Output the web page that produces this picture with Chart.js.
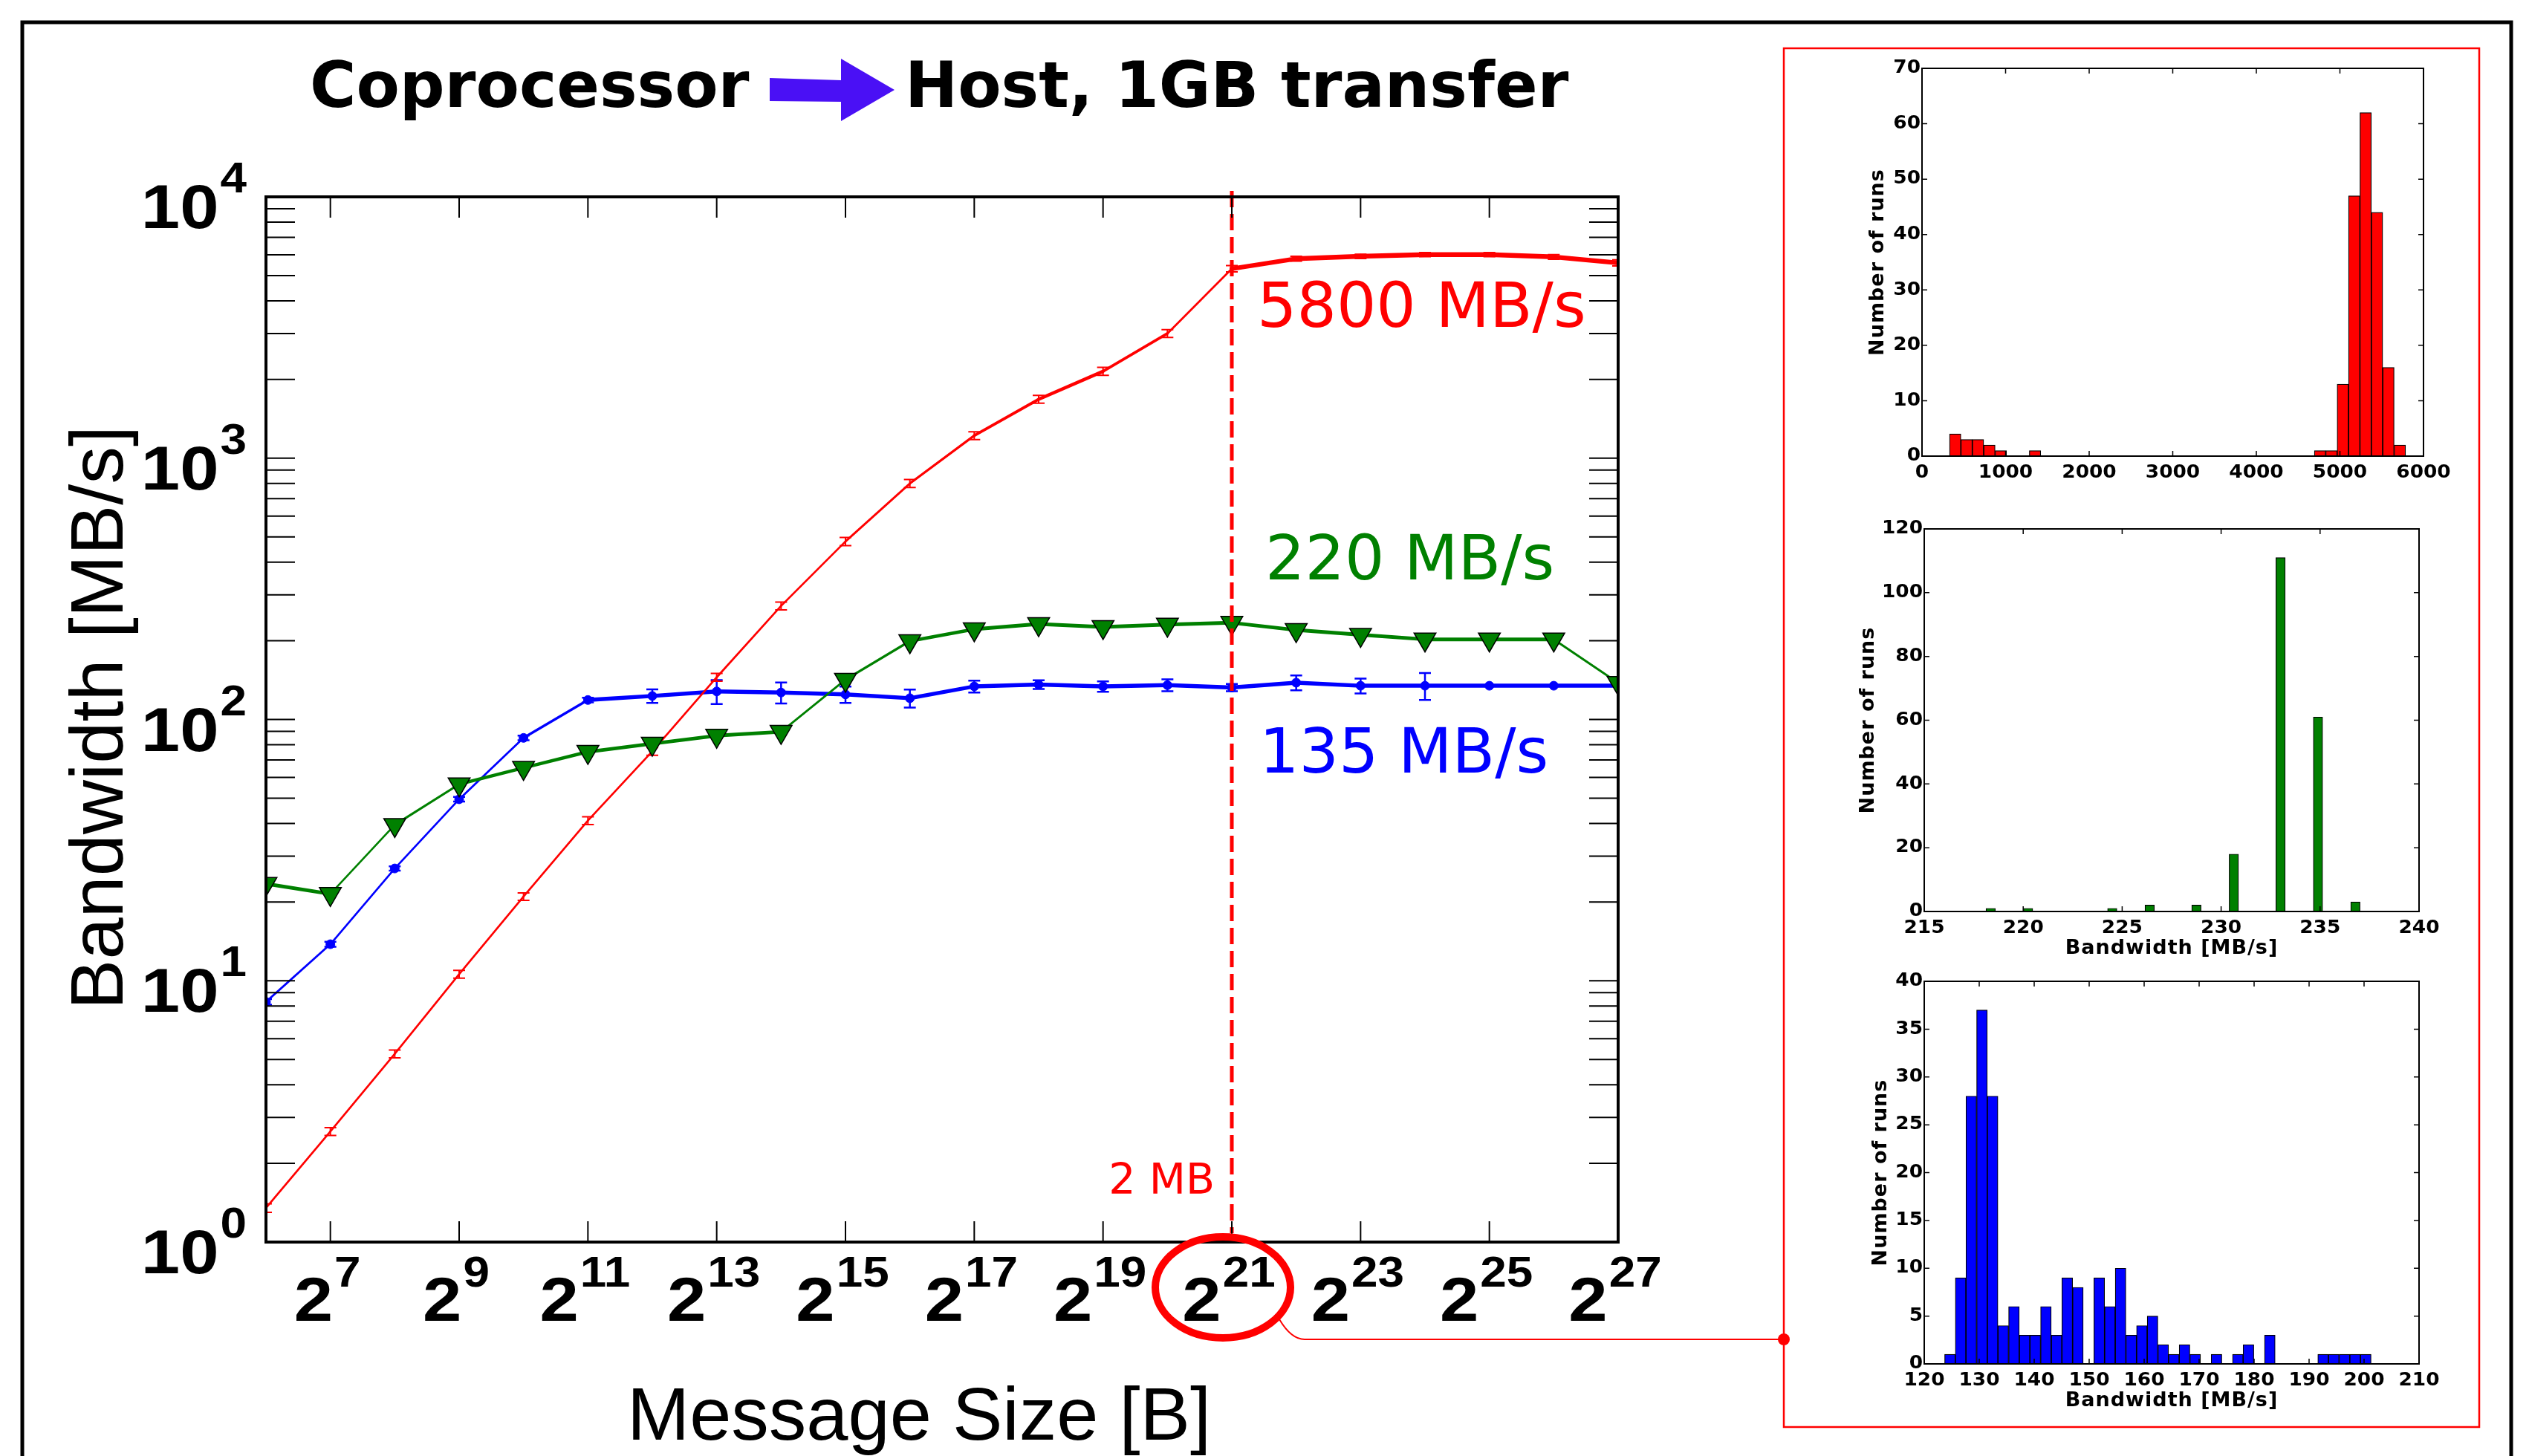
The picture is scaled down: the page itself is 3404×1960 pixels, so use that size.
<!DOCTYPE html>
<html>
<head>
<meta charset="utf-8">
<title>Coprocessor to Host, 1GB transfer</title>
<script src="https://cdn.jsdelivr.net/npm/chart.js@4.4.1/dist/chart.umd.min.js"></script>
<style>
  html, body { margin: 0; padding: 0; background: #fff; }
  body { width: 3404px; height: 1960px; position: relative; overflow: hidden; }
  canvas { position: absolute; left: 0; top: 0; }
</style>
</head>
<body>
<canvas id="mainChart" width="3404" height="1960"></canvas>
<canvas id="histRed" width="3404" height="1960"></canvas>
<canvas id="histGreen" width="3404" height="1960"></canvas>
<canvas id="histBlue" width="3404" height="1960"></canvas>
<script>
const W = 3404, H = 1960;

// message sizes in bytes, 2^6 .. 2^27
const messageSizes = [64, 128, 256, 512, 1024, 2048, 4096, 8192, 16384, 32768, 65536,
  131072, 262144, 524288, 1048576, 2097152, 4194304, 8388608, 16777216, 33554432,
  67108864, 134217728];
const xTickExps = [7, 9, 11, 13, 15, 17, 19, 21, 23, 25, 27];
const yDecades = [0, 1, 2, 3, 4];
const markerSize = 2097152; // 2 MB

// bandwidth in MB/s, with +/- error
const redBw = [1.35, 2.65, 5.25, 10.6, 21, 41, 75.5, 145, 272, 480, 800, 1220, 1680, 2150,
  3000, 5310, 5800, 5920, 6010, 6010, 5890, 5590];
const redErr = [0.05, 0.09, 0.18, 0.36, 0.7, 1.4, 2.6, 5, 9.5, 17, 28, 42, 58, 75, 105,
  150, 120, 110, 110, 110, 120, 150];
const greenBw = [23.5, 21.5, 39.5, 56.5, 65.3, 75.2, 80.8, 86.7, 89.7, 142, 199.5, 221.6,
  231.8, 226, 230.7, 234.5, 220, 210.8, 202.6, 202.6, 202.6, 138];
const greenErr = [0.5, 0.5, 0.8, 1.1, 1.3, 1.5, 1.6, 1.7, 1.8, 2.8, 4, 4.4, 4.6, 4.5, 4.6,
  4.7, 4.4, 4.2, 4, 4, 4, 2.8];
const blueBw = [8.3, 13.8, 26.9, 49.5, 85, 118.7, 123, 128, 126.8, 124.7, 120.6, 133.8,
  136, 133.8, 135.3, 132.5, 138.3, 134.6, 134.6, 134.6, 134.6, 134.6];
const blueErr = [0.2, 0.3, 0.5, 1, 1.7, 2.4, 7.3, 13.4, 11.6, 9, 9.5, 7, 5.3, 6.1, 7.1,
  4.3, 9, 8.8, 15.9, 0, 0, 0];

// histograms at 2 MB: 40 bins between first and last edge
const redBinRange = [329, 5785];
const redCounts = [4, 3, 3, 2, 1, 0, 0, 1, 0, 0, 0, 0, 0, 0, 0, 0, 0, 0, 0, 0,
  0, 0, 0, 0, 0, 0, 0, 0, 0, 0, 0, 0, 1, 1, 13, 47, 62, 44, 16, 2];
const redXTicks = [0, 1000, 2000, 3000, 4000, 5000, 6000];
const redYTicks = [0, 10, 20, 30, 40, 50, 60, 70];

const greenBinRange = [218.12, 237.02];
const greenCounts = [1, 0, 0, 0, 1, 0, 0, 0, 0, 0, 0, 0, 0, 1, 0, 0, 0, 2, 0, 0,
  0, 0, 2, 0, 0, 0, 18, 0, 0, 0, 0, 111, 0, 0, 0, 61, 0, 0, 0, 3];
const greenXTicks = [215, 220, 225, 230, 235, 240];
const greenYTicks = [0, 20, 40, 60, 80, 100, 120];

const blueBinRange = [123.71, 201.28];
const blueCounts = [1, 9, 28, 37, 28, 4, 6, 3, 3, 6, 3, 9, 8, 0, 9, 6, 10, 3, 4, 5,
  2, 1, 2, 1, 0, 1, 0, 1, 2, 0, 3, 0, 0, 0, 0, 1, 1, 1, 1, 1];
const blueXTicks = [120, 130, 140, 150, 160, 170, 180, 190, 200, 210];
const blueYTicks = [0, 5, 10, 15, 20, 25, 30, 35, 40];

function pad(r) {
  return { left: r.l, top: r.t, right: W - r.r, bottom: H - r.b };
}

// steep segments come out thinner than flat ones in the original
function slopeWidth(flat, steep) {
  return ctx => {
    const dx = ctx.p1.x - ctx.p0.x, dy = ctx.p1.y - ctx.p0.y;
    const c = Math.abs(dx) / (Math.hypot(dx, dy) || 1);
    return steep + (flat - steep) * Math.pow(c, 8);
  };
}

function points(values) {
  return messageSizes.map((s, i) => ({ x: s, y: values[i] }));
}

// text squeezed/stretched horizontally around an anchor
function wideText(ctx, text, x, y, sx) {
  ctx.save();
  ctx.translate(x, y);
  ctx.scale(sx, 1);
  ctx.fillText(text, 0, 0);
  ctx.restore();
}

// base with superscript, e.g. 10^4, 2^21
function supLabel(ctx, base, sup, x, baseY, supY, baseFont, supFont, align) {
  const sx = 1.12;
  ctx.font = baseFont;
  const wb = ctx.measureText(base).width * sx;
  ctx.font = supFont;
  const ws = ctx.measureText(sup).width * sx;
  const total = wb + 2 + ws;
  const start = align === 'right' ? x - total : x - total / 2 - 4;
  ctx.textAlign = 'left';
  ctx.font = baseFont;
  wideText(ctx, base, start, baseY, sx);
  ctx.font = supFont;
  wideText(ctx, sup, start + wb + 2, supY, sx);
}

const mainDecor = {
  id: 'mainDecor',
  beforeDatasetDraw(chart, args) {
    const ds = chart.data.datasets[args.index];
    if (!ds.errors) return;
    const ctx = chart.ctx, a = chart.chartArea;
    const xs = chart.scales.x, ys = chart.scales.y;
    ctx.save();
    ctx.beginPath();
    ctx.rect(a.left, a.top, a.right - a.left, a.bottom - a.top);
    ctx.clip();
    ctx.strokeStyle = ds.borderColor;
    ctx.lineWidth = ds.errorWidth;
    ds.data.forEach((p, i) => {
      const e = ds.errors[i];
      if (!e) return;
      const x = xs.getPixelForValue(p.x);
      const y1 = ys.getPixelForValue(p.y - e);
      const y2 = ys.getPixelForValue(p.y + e);
      ctx.beginPath();
      ctx.moveTo(x, y1); ctx.lineTo(x, y2);
      ctx.moveTo(x - ds.capHalf, y1); ctx.lineTo(x + ds.capHalf, y1);
      ctx.moveTo(x - ds.capHalf, y2); ctx.lineTo(x + ds.capHalf, y2);
      ctx.stroke();
    });
    ctx.restore();
  },
  afterDatasetsDraw(chart) {
    const ctx = chart.ctx, a = chart.chartArea;
    const x = chart.scales.x.getPixelForValue(markerSize);
    ctx.save();
    ctx.strokeStyle = '#ff0000';
    ctx.lineWidth = 5;
    ctx.setLineDash([22, 9]);
    ctx.beginPath();
    ctx.moveTo(x, a.top - 8);
    ctx.lineTo(x, a.bottom - 12);
    ctx.stroke();
    ctx.restore();
  },
  afterDraw(chart) {
    const ctx = chart.ctx, a = chart.chartArea;
    const xs = chart.scales.x, ys = chart.scales.y;
    ctx.save();

    // outer frame of the slide
    ctx.strokeStyle = '#000';
    ctx.lineWidth = 5;
    ctx.strokeRect(30, 30, 3350, 2100);

    // title with arrow
    ctx.fillStyle = '#000';
    ctx.textBaseline = 'alphabetic';
    ctx.textAlign = 'left';
    ctx.font = 'bold 85px "DejaVu Sans"';
    ctx.fillText('Coprocessor', 417, 144);
    ctx.fillText('Host, 1GB transfer', 1218, 144);
    ctx.fillStyle = '#4a10f5';
    ctx.beginPath();
    ctx.moveTo(1036, 105); ctx.lineTo(1132, 108); ctx.lineTo(1132, 79);
    ctx.lineTo(1204, 121); ctx.lineTo(1132, 163); ctx.lineTo(1132, 137);
    ctx.lineTo(1036, 136); ctx.closePath();
    ctx.fill();

    // inward ticks
    ctx.strokeStyle = '#000';
    ctx.lineWidth = 2;
    ctx.beginPath();
    for (let d = 0; d < 4; d++) {
      for (let k = 1; k < 10; k++) {
        const y = ys.getPixelForValue(k * Math.pow(10, d));
        ctx.moveTo(a.left, y); ctx.lineTo(a.left + 39, y);
        ctx.moveTo(a.right, y); ctx.lineTo(a.right - 39, y);
      }
    }
    xTickExps.forEach(e => {
      const x = xs.getPixelForValue(Math.pow(2, e));
      ctx.moveTo(x, a.bottom); ctx.lineTo(x, a.bottom - 28);
      ctx.moveTo(x, a.top); ctx.lineTo(x, a.top + 28);
    });
    ctx.stroke();

    // plot frame
    ctx.lineWidth = 4;
    ctx.strokeRect(a.left, a.top, a.right - a.left, a.bottom - a.top);

    // tick labels
    ctx.fillStyle = '#000';
    const bFont = 'bold 84px "Liberation Sans"', sFont = 'bold 57px "Liberation Sans"';
    yDecades.forEach(d => {
      const y = ys.getPixelForValue(Math.pow(10, d));
      supLabel(ctx, '10', String(d), a.left - 26, y + 42, y - 6, bFont, sFont, 'right');
    });
    xTickExps.forEach(e => {
      const x = xs.getPixelForValue(Math.pow(2, e));
      supLabel(ctx, '2', String(e), x, a.bottom + 106, a.bottom + 60, bFont, sFont, 'center');
    });

    // axis titles
    ctx.font = '101px "Liberation Sans"';
    ctx.textAlign = 'center';
    ctx.fillText('Message Size [B]', 1237, 1938);
    ctx.save();
    ctx.translate(165, 966);
    ctx.rotate(-Math.PI / 2);
    ctx.fillText('Bandwidth [MB/s]', 0, 0);
    ctx.restore();

    // annotations
    const x21 = xs.getPixelForValue(markerSize);
    ctx.textAlign = 'left';
    ctx.font = '84px "DejaVu Sans"';
    ctx.fillStyle = '#ff0000';
    ctx.fillText('5800 MB/s', x21 + 34, 440);
    ctx.fillStyle = '#008000';
    ctx.fillText('220 MB/s', x21 + 45, 780);
    ctx.fillStyle = '#0000ff';
    ctx.fillText('135 MB/s', x21 + 37, 1040);
    ctx.fillStyle = '#ff0000';
    ctx.font = '57px "DejaVu Sans"';
    ctx.textAlign = 'right';
    ctx.fillText('2 MB', x21 - 23, 1607);

    // circle on 2^21 and link to the histograms
    ctx.strokeStyle = '#ff0000';
    ctx.lineWidth = 10;
    ctx.beginPath();
    ctx.ellipse(x21 - 12, 1733, 91, 68, 0, 0, Math.PI * 2);
    ctx.stroke();
    ctx.lineWidth = 2;
    ctx.beginPath();
    ctx.moveTo(1722, 1776);
    ctx.quadraticCurveTo(1738, 1803, 1756, 1803);
    ctx.lineTo(2401, 1803);
    ctx.stroke();
    ctx.lineWidth = 2.5;
    ctx.strokeRect(2401, 65, 936, 1856);
    ctx.fillStyle = '#ff0000';
    ctx.beginPath();
    ctx.arc(2401, 1803, 8, 0, Math.PI * 2);
    ctx.fill();

    ctx.restore();
  }
};

new Chart(document.getElementById('mainChart'), {
  type: 'line',
  data: {
    datasets: [
      {
        label: '220 MB/s',
        data: points(greenBw),
        errors: greenErr, errorWidth: 2, capHalf: 7,
        borderColor: '#008000',
        borderWidth: 3,
        segment: { borderWidth: slopeWidth(5, 2.5) },
        pointStyle: 'triangle',
        pointRotation: 180,
        pointRadius: 17,
        pointBackgroundColor: '#008000',
        pointBorderColor: '#000',
        pointBorderWidth: 1.5
      },
      {
        label: '5800 MB/s',
        data: points(redBw),
        errors: redErr, errorWidth: 2, capHalf: 8,
        borderColor: '#ff0000',
        borderWidth: 3,
        segment: { borderWidth: slopeWidth(6.5, 2.5) },
        pointRadius: 0
      },
      {
        label: '135 MB/s',
        data: points(blueBw),
        errors: blueErr, errorWidth: 2.5, capHalf: 8,
        borderColor: '#0000ff',
        borderWidth: 3,
        segment: { borderWidth: slopeWidth(5.5, 2.5) },
        pointStyle: 'circle',
        pointRadius: 6,
        pointBackgroundColor: '#0000ff',
        pointBorderColor: '#0000ff',
        pointBorderWidth: 1
      }
    ]
  },
  options: {
    responsive: false,
    animation: false,
    devicePixelRatio: 1,
    layout: { padding: pad({ l: 358, t: 265, r: 2178, b: 1672 }) },
    elements: { line: { tension: 0, borderCapStyle: 'round', borderJoinStyle: 'round' } },
    datasets: { line: { clip: 0, fill: false } },
    plugins: { legend: { display: false }, tooltip: { enabled: false } },
    scales: {
      x: { type: 'logarithmic', display: false, min: 64, max: 134217728 },
      y: { type: 'logarithmic', display: false, min: 1, max: 10000 }
    }
  },
  plugins: [mainDecor]
});

function histDecor(cfg) {
  return {
    id: 'histDecor',
    afterDraw(chart) {
      const ctx = chart.ctx, a = chart.chartArea;
      const xs = chart.scales.x, ys = chart.scales.y;
      ctx.save();
      ctx.strokeStyle = '#000';
      ctx.lineWidth = 1.5;
      ctx.beginPath();
      cfg.xTicks.forEach(v => {
        const x = xs.getPixelForValue(v);
        ctx.moveTo(x, a.bottom); ctx.lineTo(x, a.bottom - 7);
        ctx.moveTo(x, a.top); ctx.lineTo(x, a.top + 7);
      });
      cfg.yTicks.forEach(v => {
        const y = ys.getPixelForValue(v);
        ctx.moveTo(a.left, y); ctx.lineTo(a.left + 7, y);
        ctx.moveTo(a.right, y); ctx.lineTo(a.right - 7, y);
      });
      ctx.stroke();
      ctx.lineWidth = 2;
      ctx.strokeRect(a.left, a.top, a.right - a.left, a.bottom - a.top);

      ctx.fillStyle = '#000';
      ctx.font = 'bold 24px "DejaVu Sans"';
      ctx.textAlign = 'center';
      ctx.textBaseline = 'alphabetic';
      cfg.xTicks.forEach(v => {
        wideText(ctx, String(v), xs.getPixelForValue(v), a.bottom + 29, 1.1);
      });
      ctx.textAlign = 'right';
      ctx.textBaseline = 'middle';
      cfg.yTicks.forEach(v => {
        wideText(ctx, String(v), a.left - 2, ys.getPixelForValue(v), 1.1);
      });

      ctx.font = 'bold 27px "DejaVu Sans"';
      ctx.letterSpacing = '1px';
      ctx.textAlign = 'center';
      ctx.save();
      ctx.translate(a.left - cfg.yTitleGap, (a.top + a.bottom) / 2);
      ctx.rotate(-Math.PI / 2);
      ctx.fillText('Number of runs', 0, 0);
      ctx.restore();
      if (cfg.xTitle) {
        ctx.textBaseline = 'alphabetic';
        ctx.fillText(cfg.xTitle, (a.left + a.right) / 2, a.bottom + 57);
      }
      ctx.restore();
    }
  };
}

function makeHist(id, range, counts, color, area, cfg) {
  const lo = range[0], hi = range[1];
  const step = (hi - lo) / counts.length;
  return new Chart(document.getElementById(id), {
    type: 'bar',
    data: {
      datasets: [{
        data: counts.map((c, i) => ({ x: lo + (i + 0.5) * step, y: c })),
        backgroundColor: color,
        borderColor: '#000',
        borderWidth: 1.2,
        borderSkipped: false,
        barPercentage: 1,
        categoryPercentage: 1
      }]
    },
    options: {
      responsive: false,
      animation: false,
      devicePixelRatio: 1,
      layout: { padding: pad(area) },
      plugins: { legend: { display: false }, tooltip: { enabled: false } },
      scales: {
        x: { type: 'linear', display: false, offset: false, bounds: 'data',
             min: cfg.xTicks[0], max: cfg.xTicks[cfg.xTicks.length - 1] },
        y: { type: 'linear', display: false, bounds: 'data',
             min: 0, max: cfg.yTicks[cfg.yTicks.length - 1] }
      }
    },
    plugins: [histDecor(cfg)]
  });
}

makeHist('histRed', redBinRange, redCounts, '#ff0000',
  { l: 2587, t: 92, r: 3262, b: 614 },
  { xTicks: redXTicks, yTicks: redYTicks, yTitleGap: 59, xTitle: null });
makeHist('histGreen', greenBinRange, greenCounts, '#008000',
  { l: 2590, t: 712, r: 3256, b: 1227 },
  { xTicks: greenXTicks, yTicks: greenYTicks, yTitleGap: 75, xTitle: 'Bandwidth [MB/s]' });
makeHist('histBlue', blueBinRange, blueCounts, '#0000ff',
  { l: 2590, t: 1321, r: 3256, b: 1836 },
  { xTicks: blueXTicks, yTicks: blueYTicks, yTitleGap: 58, xTitle: 'Bandwidth [MB/s]' });
</script>
</body>
</html>
